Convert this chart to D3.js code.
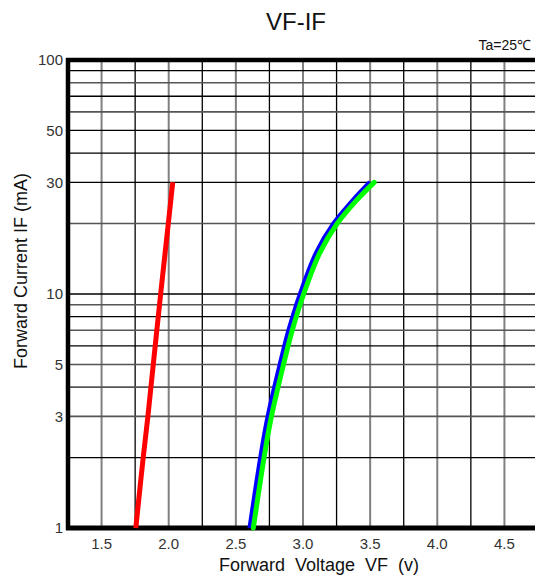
<!DOCTYPE html>
<head>
  <meta charset="utf-8">
  <style>
    body { margin: 0; background: #fff; }
    svg { display: block; font-family: "Liberation Sans", Arial, sans-serif; }
  </style>
</head>
<body>
  <script src="https://cdnjs.cloudflare.com/ajax/libs/d3/7.8.5/d3.min.js"></script>
  <script>

    // current (mA) at which the curves were read
    var currents = [1, 2, 3, 5, 7, 10, 15, 20, 25, 30];
    var redCurrents = [1, 2, 3, 5, 10, 20, 30];
    var redVolts = [1.755, 1.81, 1.845, 1.885, 1.94, 1.997, 2.03];
    var blueVolts = [2.605, 2.685, 2.74, 2.83, 2.895, 2.98, 3.10, 3.23, 3.37, 3.50];
    var greenVolts = [2.63, 2.71, 2.765, 2.855, 2.92, 3.005, 3.125, 3.255, 3.395, 3.53];

    var xTicks = [1.5, 2.0, 2.5, 3.0, 3.5, 4.0, 4.5];
    var xMinorTicks = [1.75, 2.25, 2.75, 3.25, 3.75, 4.25];
    var yTicks = [1, 3, 5, 10, 30, 50, 100];
    var yGridBlack = [2, 6, 8, 10, 30, 40, 50, 70, 90];
    var yGridGray = [3, 4, 5, 7, 9, 20, 60, 80];

    var width = 535, height = 575;

    var svg = d3.select("body").append("svg")
        .attr("width", width)
        .attr("height", height);

    var x = d3.scaleLinear()
        .domain([1.25, 4.75])
        .range([68, 538]);

    var y = d3.scaleLog()
        .domain([1, 100])
        .range([528, 60]);

    // grid
    svg.append("g").selectAll("line")
        .data(xTicks)
      .enter().append("line")
        .attr("x1", function(d) { return x(d); })
        .attr("x2", function(d) { return x(d); })
        .attr("y1", y(1))
        .attr("y2", y(100))
        .attr("stroke", "#808080")
        .attr("stroke-width", 2);

    svg.append("g").selectAll("line")
        .data(xMinorTicks)
      .enter().append("line")
        .attr("x1", function(d) { return x(d); })
        .attr("x2", function(d) { return x(d); })
        .attr("y1", y(1))
        .attr("y2", y(100))
        .attr("stroke", "#000")
        .attr("stroke-width", 1.3);

    svg.append("g").selectAll("line")
        .data(yGridGray)
      .enter().append("line")
        .attr("x1", x(1.25))
        .attr("x2", width)
        .attr("y1", function(d) { return y(d); })
        .attr("y2", function(d) { return y(d); })
        .attr("stroke", "#555")
        .attr("stroke-width", 1.6);

    svg.append("g").selectAll("line")
        .data(yGridBlack)
      .enter().append("line")
        .attr("x1", x(1.25))
        .attr("x2", width)
        .attr("y1", function(d) { return y(d); })
        .attr("y2", function(d) { return y(d); })
        .attr("stroke", "#000")
        .attr("stroke-width", 1.3);

    // frame
    svg.append("line")
        .attr("x1", x(1.25) - 2).attr("x2", width)
        .attr("y1", y(100)).attr("y2", y(100))
        .attr("stroke", "#000").attr("stroke-width", 4.5);
    svg.append("line")
        .attr("x1", x(1.25) - 2).attr("x2", width)
        .attr("y1", y(1)).attr("y2", y(1))
        .attr("stroke", "#000").attr("stroke-width", 5);
    svg.append("line")
        .attr("x1", x(1.25)).attr("x2", x(1.25))
        .attr("y1", y(100) - 2).attr("y2", y(1) + 2)
        .attr("stroke", "#000").attr("stroke-width", 4.5);

    // axes labels
    svg.append("g").selectAll("text")
        .data(xTicks)
      .enter().append("text")
        .attr("x", function(d) { return x(d); })
        .attr("y", 549)
        .attr("text-anchor", "middle")
        .attr("font-size", 15)
        .attr("fill", "#333")
        .text(function(d) { return d3.format(".1f")(d); });

    svg.append("g").selectAll("text")
        .data(yTicks)
      .enter().append("text")
        .attr("x", 63)
        .attr("y", function(d) { return y(d); })
        .attr("dy", "0.36em")
        .attr("text-anchor", "end")
        .attr("font-size", 15)
        .attr("fill", "#333")
        .text(function(d) { return d; });

    // curves
    var line = d3.line()
        .x(function(d) { return x(d[0]); })
        .y(function(d) { return y(d[1]); })
        .curve(d3.curveCatmullRom.alpha(0.5));

    svg.append("path")
        .datum(d3.zip(redVolts, redCurrents))
        .attr("d", line)
        .attr("fill", "none")
        .attr("stroke", "#ff0000")
        .attr("stroke-width", 5);

    svg.append("path")
        .datum(d3.zip(blueVolts, currents))
        .attr("d", line)
        .attr("fill", "none")
        .attr("stroke", "#0000ff")
        .attr("stroke-width", 5);

    svg.append("path")
        .datum(d3.zip(greenVolts, currents))
        .attr("d", line)
        .attr("fill", "none")
        .attr("stroke", "#00ff00")
        .attr("stroke-width", 5)
        .attr("stroke-linecap", "round");

    // titles
    svg.append("text")
        .attr("x", 296)
        .attr("y", 30)
        .attr("text-anchor", "middle")
        .attr("font-size", 24)
        .attr("fill", "#111")
        .text("VF-IF");

    svg.append("text")
        .attr("x", 531)
        .attr("y", 50)
        .attr("text-anchor", "end")
        .attr("font-size", 14)
        .attr("fill", "#111")
        .text("Ta=25\u2103");

    svg.append("text")
        .attr("x", 319)
        .attr("y", 571)
        .attr("text-anchor", "middle")
        .attr("font-size", 18)
        .attr("fill", "#111")
        .attr("xml:space", "preserve")
        .style("white-space", "pre")
        .text("Forward  Voltage  VF  (v)");

    svg.append("text")
        .attr("transform", "translate(27,271) rotate(-90)")
        .attr("text-anchor", "middle")
        .attr("font-size", 18)
        .attr("fill", "#111")
        .text("Forward Current IF (mA)");

  </script>
</body>
